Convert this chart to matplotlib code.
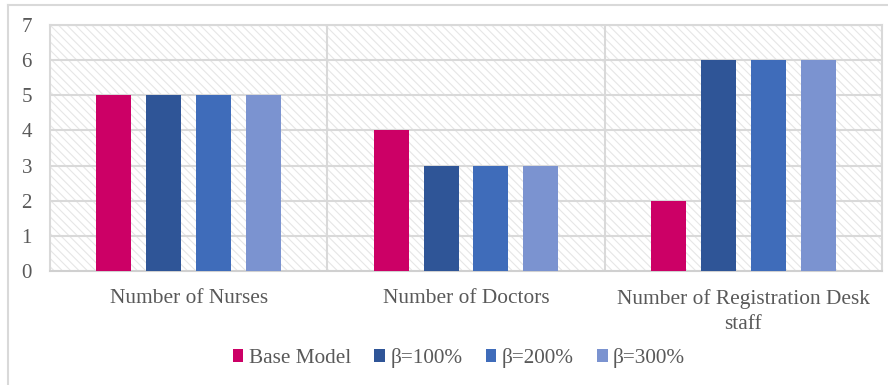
import matplotlib
matplotlib.use("Agg")
import matplotlib.pyplot as plt
from matplotlib.patches import Rectangle
from matplotlib.lines import Line2D
import numpy as np

categories = ["Number of Nurses", "Number of Doctors", "Number of Registration Desk\nstaff"]
series_names = ["Base Model", "β=100%", "β=200%", "β=300%"]
base_model = [5, 4, 2]
beta_100 = [5, 3, 6]
beta_200 = [5, 3, 6]
beta_300 = [5, 3, 6]
y_ticks = [0, 1, 2, 3, 4, 5, 6, 7]

colors = ["#CC0066", "#2F5597", "#3F6CBA", "#7B93D0"]
text_color = "#595959"
grid_color = "#D9D9D9"

plt.rcParams['font.family'] = 'Liberation Serif'
plt.rcParams['hatch.color'] = "#E6E6E6"
plt.rcParams['hatch.linewidth'] = 0.8

fig = plt.figure(figsize=(8.88, 3.85), dpi=100)
ax = fig.add_axes([50/888, 1-271/385, 832/888, 246/385])

# hatched background
ax.patch.set_facecolor("white")
bg = Rectangle((0, 0), 1, 1, transform=ax.transAxes, facecolor="white",
               edgecolor="#E6E6E6", linewidth=0, hatch="\\" * 4, zorder=0)
ax.add_patch(bg)

x = np.arange(len(categories))
width = 0.126
offsets = [-0.27, -0.09, 0.09, 0.27]
data = [base_model, beta_100, beta_200, beta_300]
for vals, off, c, name in zip(data, offsets, colors, series_names):
    ax.bar(x + off, vals, width, color=c, label=name, zorder=3)

ax.set_xlim(-0.5, len(categories) - 0.5)
ax.set_ylim(0, 7)
ax.set_yticks(y_ticks)
ax.set_yticklabels([str(t) for t in y_ticks], fontsize=15, color=text_color)
ax.set_xticks(x)
labels = ax.set_xticklabels(categories, fontsize=15.4, color=text_color)
for lb in labels:
    lb.set_linespacing(1.45)
    lb.set_multialignment('center')
ax.tick_params(axis='both', length=0)
ax.tick_params(axis='y', pad=13)
ax.tick_params(axis='x', pad=13)

# gridlines
for t in y_ticks[1:]:
    ax.axhline(t, color=grid_color, linewidth=1.5, zorder=1)
for b in [0.5, 1.5]:
    ax.axvline(b, color=grid_color, linewidth=1.5, zorder=1)

for s in ax.spines.values():
    s.set_color(grid_color)
    s.set_linewidth(1.5)
ax.spines['bottom'].set_color("#D0D0D0")

# legend
handles = [Rectangle((0, 0), 1, 1, facecolor=c, edgecolor='none') for c in colors]
leg = fig.legend(handles, series_names, loc='center', bbox_to_anchor=(459/888, 1-358/385),
                 ncol=4, frameon=False, fontsize=15.3, handlelength=0.5, handleheight=0.5,
                 handletextpad=0.25, columnspacing=1.1)
for t in leg.get_texts():
    t.set_color(text_color)

# chart border (top and left)
fig.add_artist(Line2D([8/888, 8/888], [0, 1-5/385], transform=fig.transFigure, color=grid_color, linewidth=1.5))
fig.add_artist(Line2D([8/888, 1], [1-5/385, 1-5/385], transform=fig.transFigure, color=grid_color, linewidth=1.5))

fig.savefig("out.png", dpi=100)
